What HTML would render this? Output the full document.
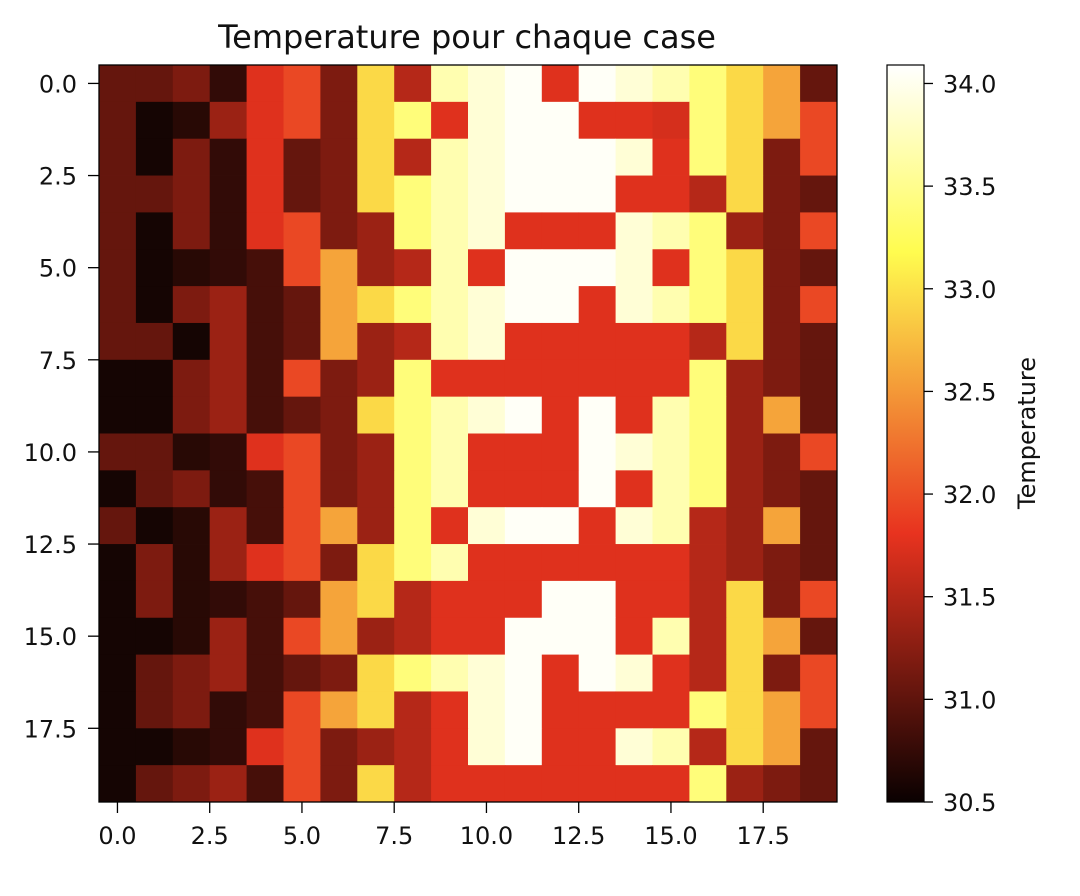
<!DOCTYPE html>
<html><head><meta charset="utf-8"><style>
html,body{margin:0;padding:0;background:#fff;}
svg{display:block;font-family:"DejaVu Sans","Liberation Sans",sans-serif;}
</style></head><body>
<svg id="chart" width="1080" height="896" viewBox="0 0 1080 896">
<defs><linearGradient id="hotgrad" x1="0" y1="1" x2="0" y2="0">
<stop offset="0" stop-color="#0a0101"/><stop offset="0.365" stop-color="#e8331f"/>
<stop offset="0.746" stop-color="#fffc4f"/><stop offset="1" stop-color="#ffffff"/></linearGradient></defs>
<text x="467" y="48" font-size="32" text-anchor="middle" fill="#111">Temperature pour chaque case</text>
<g id="cells"></g>
<rect x="99" y="65" width="738" height="737" fill="none" stroke="#000" stroke-width="1.3"/>
<g id="xticks"></g>
<g id="yticks"></g>
<rect x="887" y="65" width="37" height="737" fill="url(#hotgrad)" stroke="#000" stroke-width="1.2"/>
<g id="cticks"></g>
<text transform="translate(1035,433) rotate(-90)" font-size="24" text-anchor="middle" fill="#111">Temperature</text>
</svg>
<script>
const rowsIdx=[0,1,2,3,4,5,6,7,8,9,10,11,12,13,14,15,16,17,18,19];
const colsIdx=[0,1,2,3,4,5,6,7,8,9,10,11,12,13,14,15,16,17,18,19];
const tickValues=[0,2.5,5,7.5,10,12.5,15,17.5];
const tickLabels=["0.0","2.5","5.0","7.5","10.0","12.5","15.0","17.5"];
const cbarTicks=[30.5,31,31.5,32,32.5,33,33.5,34];
const cbarLabels=["30.5","31.0","31.5","32.0","32.5","33.0","33.5","34.0"];
const vmin=30.5, vmax=34.09;
const temps=[
[31.04,31.04,31.18,30.74,31.76,31.95,31.18,32.94,31.51,33.68,33.88,34.05,31.76,34.05,33.88,33.68,33.4,32.94,32.58,31.04],
[31.04,30.57,30.68,31.36,31.76,31.95,31.18,32.94,33.4,31.76,33.88,34.05,34.05,31.76,31.76,31.7,33.4,32.94,32.58,31.95],
[31.04,30.57,31.18,30.74,31.76,31.04,31.18,32.94,31.51,33.68,33.88,34.05,34.05,34.05,33.88,31.76,33.4,32.94,31.18,31.95],
[31.04,31.04,31.18,30.74,31.76,31.04,31.18,32.94,33.4,33.68,33.88,34.05,34.05,34.05,31.76,31.76,31.51,32.94,31.18,31.04],
[31.04,30.57,31.18,30.74,31.76,31.95,31.18,31.36,33.4,33.68,33.88,31.76,31.76,31.76,33.88,33.68,33.4,31.36,31.18,31.95],
[31.04,30.57,30.68,30.74,30.86,31.95,32.58,31.36,31.51,33.68,31.76,34.05,34.05,34.05,33.88,31.76,33.4,32.94,31.18,31.04],
[31.04,30.57,31.18,31.36,30.86,31.04,32.58,32.94,33.4,33.68,33.88,34.05,34.05,31.76,33.88,33.68,33.4,32.94,31.18,31.95],
[31.04,31.04,30.57,31.36,30.86,31.04,32.58,31.36,31.51,33.68,33.88,31.76,31.76,31.76,31.76,31.76,31.51,32.94,31.18,31.04],
[30.57,30.57,31.18,31.36,30.86,31.95,31.18,31.36,33.4,31.76,31.76,31.76,31.76,31.76,31.76,31.76,33.4,31.36,31.18,31.04],
[30.57,30.57,31.18,31.36,30.86,31.04,31.18,32.94,33.4,33.68,33.88,34.05,31.76,34.05,31.76,33.68,33.4,31.36,32.58,31.04],
[31.04,31.04,30.68,30.74,31.76,31.95,31.18,31.36,33.4,33.68,31.76,31.76,31.76,34.05,33.88,33.68,33.4,31.36,31.18,31.95],
[30.57,31.04,31.18,30.74,30.86,31.95,31.18,31.36,33.4,33.68,31.76,31.76,31.76,34.05,31.76,33.68,33.4,31.36,31.18,31.04],
[31.04,30.57,30.68,31.36,30.86,31.95,32.58,31.36,33.4,31.76,33.88,34.05,34.05,31.76,33.88,33.68,31.51,31.36,32.58,31.04],
[30.57,31.18,30.68,31.36,31.76,31.95,31.18,32.94,33.4,33.68,31.76,31.76,31.76,31.76,31.76,31.76,31.51,31.36,31.18,31.04],
[30.57,31.18,30.68,30.74,30.86,31.04,32.58,32.94,31.51,31.76,31.76,31.76,34.05,34.05,31.76,31.76,31.51,32.94,31.18,31.95],
[30.57,30.57,30.68,31.36,30.86,31.95,32.58,31.36,31.51,31.76,31.76,34.05,34.05,34.05,31.76,33.68,31.51,32.94,32.58,31.04],
[30.57,31.04,31.18,31.36,30.86,31.04,31.18,32.94,33.4,33.68,33.88,34.05,31.76,34.05,33.88,31.76,31.51,32.94,31.18,31.95],
[30.57,31.04,31.18,30.74,30.86,31.95,32.58,32.94,31.51,31.76,33.88,34.05,31.76,31.76,31.76,31.76,33.4,32.94,32.58,31.95],
[30.57,30.57,30.68,30.74,31.76,31.95,31.18,31.36,31.51,31.76,33.88,34.05,31.76,31.76,33.88,33.68,31.51,32.94,32.58,31.04],
[30.57,31.04,31.18,31.36,30.86,31.95,31.18,32.94,31.51,31.76,31.76,31.76,31.76,31.76,31.76,31.76,33.4,31.36,31.18,31.04]
];
const NS="http://www.w3.org/2000/svg";
const X0=99,X1=837,Y0=65,Y1=802,CB0=65,CB1=802;
function xs(v){return X0+(v+0.5)/20*(X1-X0);}
function ys(v){return Y0+(v+0.5)/20*(Y1-Y0);}
function cs(v){return CB1-(v-vmin)/(vmax-vmin)*(CB1-CB0);}
function hot(v){let t=Math.max(0,Math.min(1,(v-vmin)/(vmax-vmin)));
 const r=Math.min(1,t/0.365079*0.96+0.04), g=Math.max(0,Math.min(1,(t-0.365079)/0.380953)), b=Math.max(0,Math.min(1,(t-0.746032)/0.253968));
 const R=0.91*r+0.09*g, G=0.2*r+0.79*g+0.01*b, B=0.12*r+0.19*g+0.69*b;
 const c=x=>Math.round(Math.max(0,Math.min(1,x))*255);
 return `rgb(${c(R)},${c(G)},${c(B)})`;}
function mk(tag,attrs,parent){const e=document.createElementNS(NS,tag);for(const k in attrs)e.setAttribute(k,attrs[k]);parent.appendChild(e);return e;}
const cells=document.getElementById('cells');
rowsIdx.forEach(r=>{colsIdx.forEach(c=>{
 const x=xs(c-0.5),y=ys(r-0.5);
 const e=mk('rect',{x:x,y:y,width:xs(c+0.5)-x+0.4,height:ys(r+0.5)-y+0.4,fill:hot(temps[r][c])},cells);
 
 
});});
const xt=document.getElementById('xticks'),yt=document.getElementById('yticks'),ct=document.getElementById('cticks');
tickValues.forEach((v,i)=>{
 const x=xs(v);
 const l=mk('line',{x1:x,x2:x,y1:Y1,y2:Y1+11,stroke:'#000','stroke-width':1.3},xt);
 
 
 const t=mk('text',{x:x,y:Y1+42,'font-size':24,'text-anchor':'middle',fill:'#111'},xt);t.textContent=tickLabels[i];
 
 
 const y=ys(v);
 const l2=mk('line',{x1:X0-11,x2:X0,y1:y,y2:y,stroke:'#000','stroke-width':1.3},yt);
 
 
 const t2=mk('text',{x:X0-22,y:y+9,'font-size':24,'text-anchor':'end',fill:'#111'},yt);t2.textContent=tickLabels[i];
 
 
});
cbarTicks.forEach((v,i)=>{
 const y=cs(v);
 const l=mk('line',{x1:924,x2:933,y1:y,y2:y,stroke:'#000','stroke-width':1.3},ct);
 
 
 const t=mk('text',{x:943,y:y+9,'font-size':24,fill:'#111'},ct);t.textContent=cbarLabels[i];
 
 
});
</script>
</body></html>
